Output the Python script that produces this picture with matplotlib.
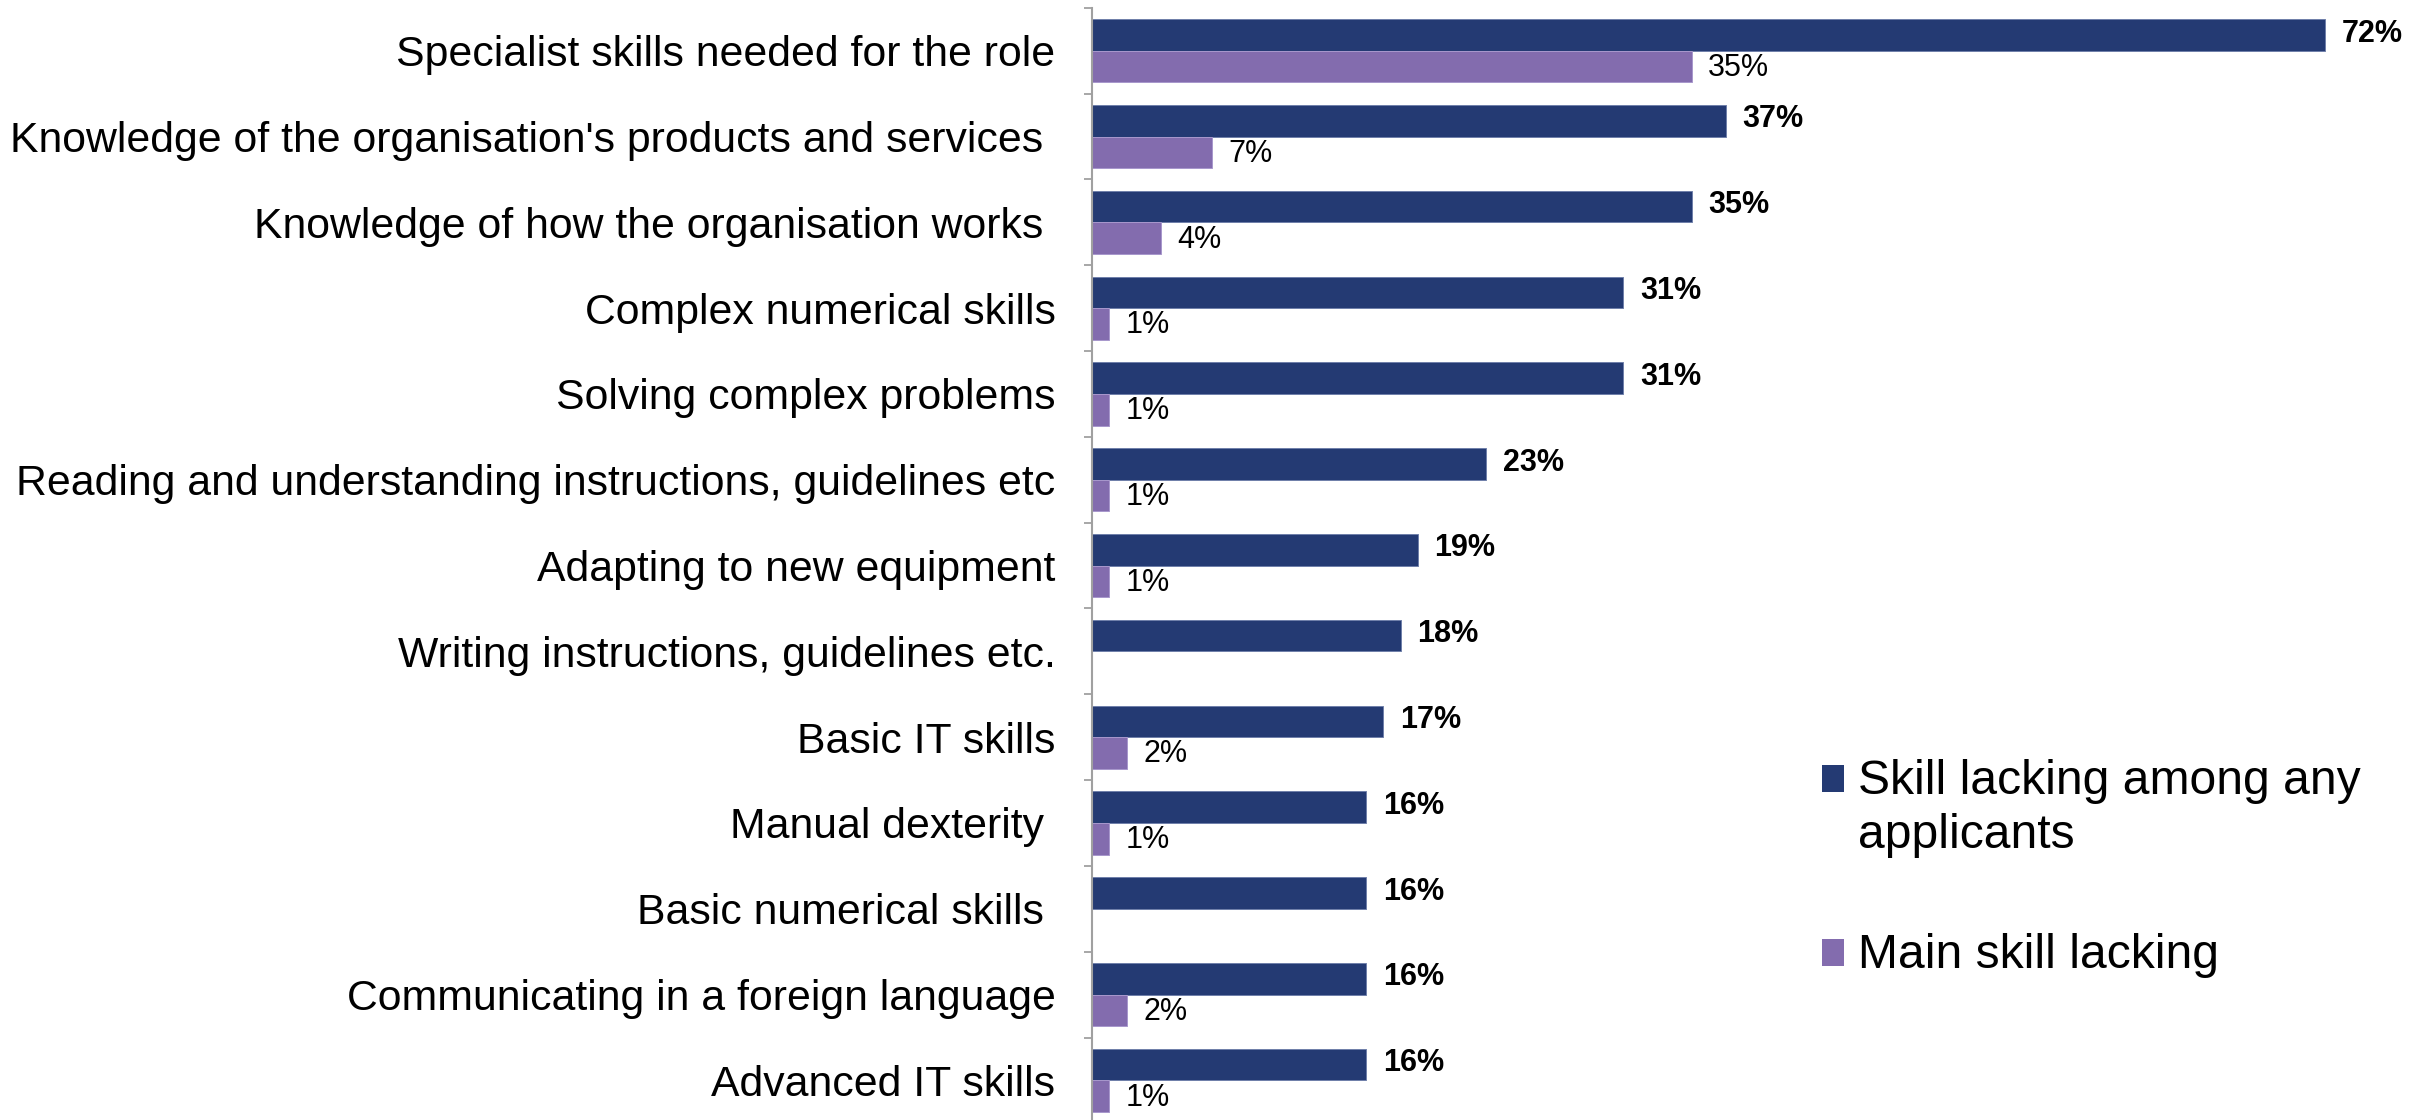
import matplotlib
matplotlib.use("Agg")
import matplotlib.pyplot as plt
from matplotlib.patches import Rectangle

plt.rcParams['font.family'] = ['Liberation Sans', 'DejaVu Sans']

categories = [
    "Specialist skills needed for the role",
    "Knowledge of the organisation's products and services ",
    "Knowledge of how the organisation works ",
    "Complex numerical skills",
    "Solving complex problems",
    "Reading and understanding instructions, guidelines etc",
    "Adapting to new equipment",
    "Writing instructions, guidelines etc.",
    "Basic IT skills",
    "Manual dexterity ",
    "Basic numerical skills ",
    "Communicating in a foreign language",
    "Advanced IT skills",
]
any_applicants = [72, 37, 35, 31, 31, 23, 19, 18, 17, 16, 16, 16, 16]
main_skill = [35, 7, 4, 1, 1, 1, 1, None, 2, 1, None, 2, 1]
series_names = ["Skill lacking among any\napplicants", "Main skill lacking"]

DARK = "#243A73"
PURPLE = "#836CAE"

W, H = 2433, 1120
fig = plt.figure(figsize=(W / 100, H / 100), dpi=100)
ax_left = 1092.3 / W
ax_top = 1 - 7.9 / H
ax_bot = 1 - 1123.3 / H
ax = fig.add_axes([ax_left, ax_bot, 1 - ax_left, ax_top - ax_bot])

n = len(categories)
ys = list(range(n))
h = 0.368
dark_y = [y - h / 2 for y in ys]
pur_y = [y + h / 2 for y in ys]
pur_vals = [v if v is not None else 0 for v in main_skill]

ax.barh(dark_y, any_applicants, height=h, color=DARK, edgecolor="#6F80AA", linewidth=0.7)
ax.barh(pur_y, pur_vals, height=h, color=PURPLE, edgecolor="#A898CC", linewidth=0.7)

for y, v in zip(dark_y, any_applicants):
    ax.annotate(f"{v}%", xy=(v, y), xytext=(12, 1), textcoords="offset points",
                va="center", ha="left", fontsize=22, fontweight="bold", color="black")
for y, v in zip(pur_y, main_skill):
    if v is None:
        continue
    ax.annotate(f"{v}%", xy=(v, y), xytext=(12, -1), textcoords="offset points",
                va="center", ha="left", fontsize=22, color="black")

ax.set_xlim(0, (W - 1092.3) / 17.125)
ax.set_ylim(n - 0.5, -0.5)
ax.set_yticks(ys)
ax.set_yticklabels(categories, fontsize=30.8)
ax.tick_params(axis="y", which="major", length=0, pad=26.5)
ax.set_yticks([i - 0.5 for i in range(n + 1)], minor=True)
ax.tick_params(axis="y", which="minor", length=5.5, width=1.3, color="#A0A0A0", direction="out")
ax.set_xticks([])
for s in ["top", "right", "bottom"]:
    ax.spines[s].set_visible(False)
ax.spines["left"].set_color("#A0A0A0")
ax.spines["left"].set_linewidth(1.5)

# legend
leg_fs = 34.6
mk_w, mk_h = 22 / W, 27 / H
fig.patches.append(Rectangle((1822 / W, 1 - 792 / H), mk_w, mk_h, transform=fig.transFigure,
                             facecolor=DARK, edgecolor="none"))
fig.text(1858 / W, 1 - 781 / H, "Skill lacking among any", fontsize=leg_fs, va="center", ha="left")
fig.text(1858 / W, 1 - 836 / H, "applicants", fontsize=leg_fs, va="center", ha="left")
fig.patches.append(Rectangle((1822 / W, 1 - 966 / H), mk_w, mk_h, transform=fig.transFigure,
                             facecolor=PURPLE, edgecolor="none"))
fig.text(1858 / W, 1 - 955 / H, series_names[1], fontsize=leg_fs, va="center", ha="left")

fig.savefig("out.png", dpi=100)
